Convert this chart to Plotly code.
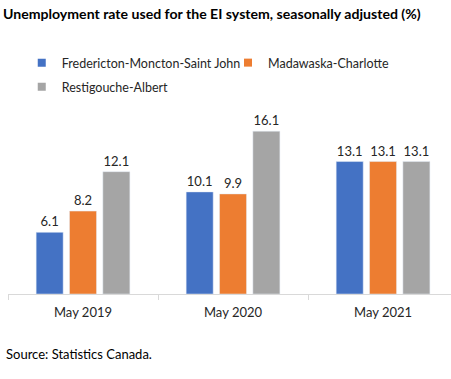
import plotly.graph_objects as go

categories = ["May 2019", "May 2020", "May 2021"]
series_names = ["Fredericton-Moncton-Saint John", "Madawaska-Charlotte", "Restigouche-Albert"]
fred = [6.1, 10.1, 13.1]
mada = [8.2, 9.9, 13.1]
resti = [12.1, 16.1, 13.1]
colors = ["#4472C4", "#ED7D31", "#A5A5A5"]
title_text = "Unemployment rate used for the EI system, seasonally adjusted (%)"
source_text = "Source: Statistics Canada."

FONT = "Lato"
W, H = 451, 379

fig = go.Figure()
legend_ids = ["legend", "legend2", "legend3"]
for name, vals, col, lg in zip(series_names, [fred, mada, resti], colors, legend_ids):
    fig.add_trace(go.Bar(
        x=categories, y=vals, name=name, marker_color=col,
        text=[f"{v:.1f}" for v in vals], textposition="outside",
        textfont=dict(size=13, color="#262626", family=FONT),
        cliponaxis=False, showlegend=False,
    ))
    # legend-only marker entry (small square like the original)
    fig.add_trace(go.Scatter(
        x=[None], y=[None], mode="markers", name=name,
        marker=dict(symbol="square", size=8, color=col),
        legend=lg, showlegend=True, hoverinfo="skip",
    ))

def leg(x_px, y_px):
    return dict(orientation="h", x=x_px / W, xanchor="left", y=1 - y_px / H, yref="container",
                yanchor="middle", font=dict(size=12.5, color="#262626", family=FONT),
                bgcolor="rgba(0,0,0,0)")

fig.update_layout(
    width=W, height=H,
    margin=dict(l=8, r=0, t=112, b=85),
    paper_bgcolor="white", plot_bgcolor="white",
    font=dict(family=FONT, size=12, color="#262626"),
    barmode="group", bargap=0.333, bargroupgap=0.19,
    title=dict(text="<b>" + title_text + "</b>", xref="container", yref="container",
               x=3 / W, xanchor="left", y=1 - 14 / H, yanchor="middle",
               font=dict(size=14.1, color="#000000", family=FONT)),
    legend=leg(14, 63),
    legend2=leg(224, 63),
    legend3=leg(14, 87),
    showlegend=True,
)
fig.update_xaxes(range=[-0.5, 2.453], showline=True, linecolor="#D9D9D9", linewidth=1,
                 ticks="outside", tickson="boundaries", ticklen=5, tickcolor="#D9D9D9",
                 ticklabelstandoff=6,
                 tickfont=dict(size=13, color="#262626"), showgrid=False)
fig.update_yaxes(range=[0, 18], visible=False, showgrid=False)

fig.add_annotation(text=source_text, xref="paper", yref="paper", x=-4 / 443, xanchor="left",
                   y=-(354 - 294) / (294 - 112), yanchor="middle", showarrow=False,
                   font=dict(size=13, color="#000000", family=FONT))

fig.write_html("out.html", config={"displayModeBar": False},
               post_script="document.body.style.margin='0';")
